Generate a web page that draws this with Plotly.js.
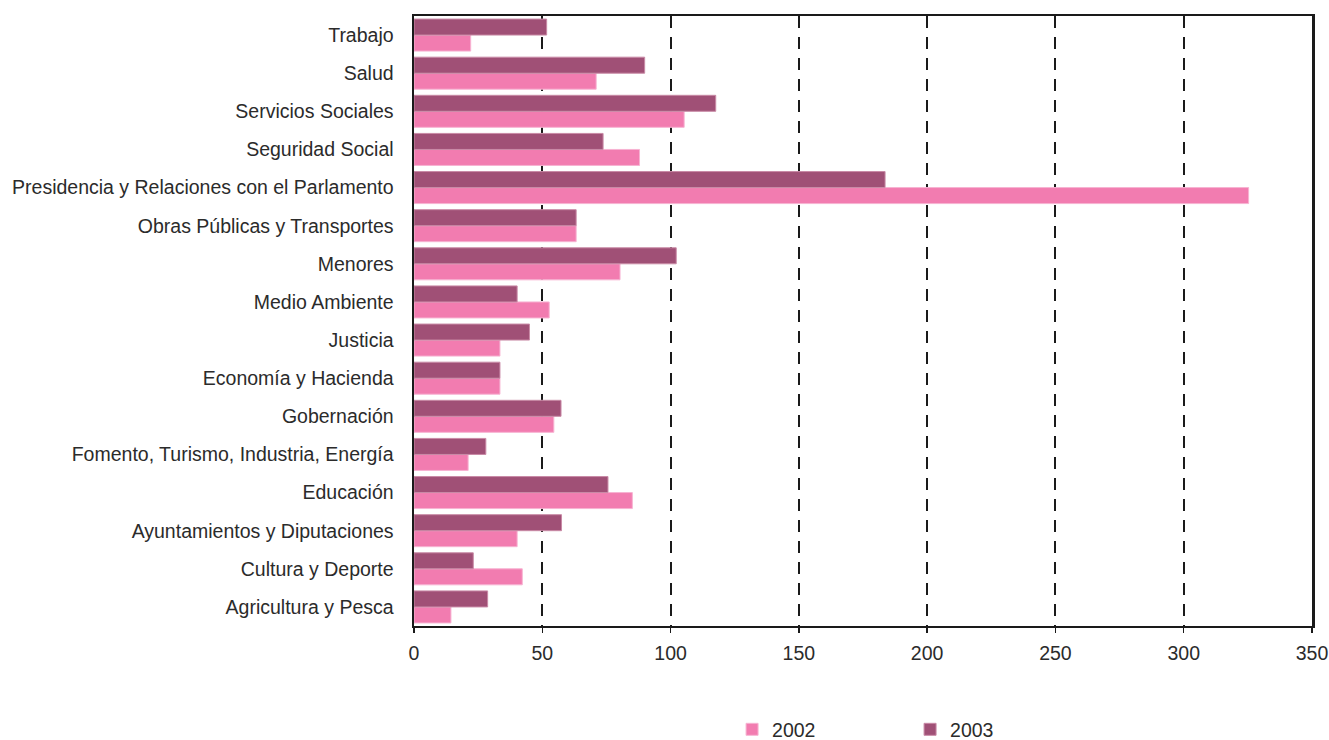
<!DOCTYPE html>
<html>
<head>
<meta charset="utf-8">
<script src="https://cdn.plot.ly/plotly-3.0.1.min.js"></script>
<style>html,body{margin:0;padding:0;background:#fff;}#chart{width:1329px;height:740px;}</style>
</head>
<body>
<div id="chart"></div>
<script>
// Categories listed bottom to top
const categories = [
  "Agricultura y Pesca",
  "Cultura y Deporte",
  "Ayuntamientos y Diputaciones",
  "Educación",
  "Fomento, Turismo, Industria, Energía",
  "Gobernación",
  "Economía y Hacienda",
  "Justicia",
  "Medio Ambiente",
  "Menores",
  "Obras Públicas y Transportes",
  "Presidencia y Relaciones con el Parlamento",
  "Seguridad Social",
  "Servicios Sociales",
  "Salud",
  "Trabajo"
];
const values2002 = [14.4, 42.2, 40.2, 85.1, 21.1, 54.5, 33.5, 33.5, 52.7, 80.3, 63.2, 325.3, 87.9, 105.3, 71, 22.1];
const values2003 = [28.7, 23.1, 57.5, 75.6, 28, 57.3, 33.5, 45, 40.2, 102.2, 63.2, 183.6, 73.7, 117.6, 89.9, 51.7];
const seriesNames = ["2002", "2003"];
const xTicks = [0, 50, 100, 150, 200, 250, 300, 350];

const traces = [
  {
    type: "bar", orientation: "h", name: seriesNames[0],
    y: categories, x: values2002,
    marker: {color: "#f27cb0", line: {color: "#f7b3d2", width: 1}},
    hoverinfo: "x+y"
  },
  {
    type: "bar", orientation: "h", name: seriesNames[1],
    y: categories, x: values2003,
    marker: {color: "#a05076", line: {color: "#c98aa6", width: 1}},
    hoverinfo: "x+y"
  }
];

const layout = {
  width: 1329, height: 740,
  margin: {l: 414, r: 17, t: 16, b: 114, pad: 0},
  paper_bgcolor: "#fff", plot_bgcolor: "#fff",
  barmode: "group", bargap: 0.16, bargroupgap: 0,
  font: {family: "Liberation Sans, Arial, sans-serif", size: 19.5, color: "#2b2b2b"},
  xaxis: {
    range: [0, 350], tickvals: xTicks, ticktext: xTicks.map(String),
    showgrid: true, gridcolor: "#1a1a1a", gridwidth: 2, griddash: "12px,9px",
    showline: true, linecolor: "#1a1a1a", linewidth: 2, mirror: true,
    ticks: "outside", ticklen: 5, tickwidth: 1.5, tickcolor: "#1a1a1a",
    ticklabelstandoff: 4,
    zeroline: false, tickfont: {size: 19.5, color: "#2b2b2b"}, fixedrange: true
  },
  yaxis: {
    type: "category", categoryorder: "array", categoryarray: categories,
    showgrid: false, showline: true, linecolor: "#1a1a1a", linewidth: 2.5, mirror: true,
    ticks: "", ticklabelstandoff: 14, automargin: false,
    tickfont: {size: 19.5, color: "#2b2b2b"}, fixedrange: true
  },
  showlegend: true,
  legend: {
    orientation: "h", xref: "paper", x: 0.3542, xanchor: "left",
    yref: "container", y: 0.014, yanchor: "middle",
    font: {size: 19.5, color: "#2b2b2b"}, traceorder: "normal",
    entrywidth: 133, entrywidthmode: "pixels", itemwidth: 30
  }
};

Plotly.newPlot("chart", traces, layout, {displayModeBar: false, staticPlot: true});
</script>
</body>
</html>
